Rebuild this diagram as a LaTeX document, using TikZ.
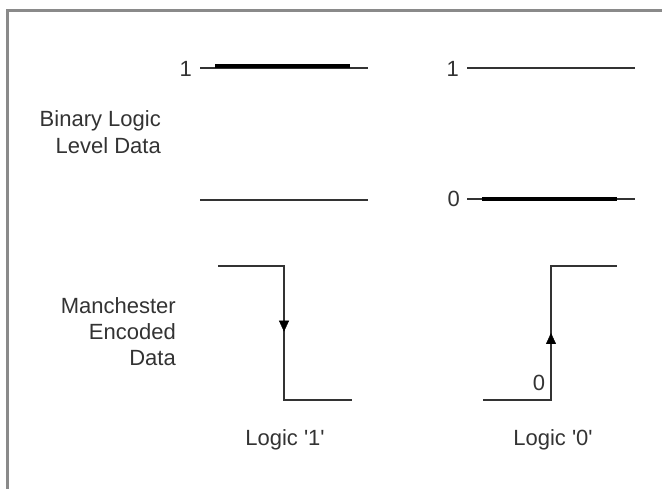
\documentclass[tikz,border=0pt]{standalone}
\usepackage{fontspec}
\setmainfont{Liberation Sans}
\usetikzlibrary{arrows.meta,decorations.markings}
\definecolor{ln}{HTML}{333333}
\definecolor{frame}{HTML}{8A8A8A}
\begin{document}
\begin{tikzpicture}[x=1pt,y=-1pt,
  lvl/.style={draw=ln,line width=1.6pt},
  bar/.style={draw=black,line width=3.2pt},
  wave/.style={draw=ln,line width=2pt,line join=miter},
  lbl/.style={font=\fontsize{22}{25}\selectfont,text=ln,inner sep=0pt},
  midarrow/.style={postaction={decorate},decoration={markings,mark=at position #1 with {\arrow{Triangle[length=11pt,width=10pt]}}}}]
\useasboundingbox[fill=white] (0,0) rectangle (662,489);
% frame
\draw[frame,line width=3pt] (7,489) -- (7,11) -- (662,11);
% level lines
\coordinate (a1) at (200,68); \coordinate (b1) at (368,68);
\coordinate (a0) at (200,200); \coordinate (b0) at (368,200);
\coordinate (c1) at (467,68); \coordinate (d1) at (635,68);
\coordinate (c0) at (467,199); \coordinate (d0) at (635,199);
\draw[lvl] (a1) -- (b1);
\draw[lvl] (a0) -- (b0);
\draw[lvl] (c1) -- (d1);
\draw[lvl] (c0) -- (d0);
\coordinate (p1) at (215,66); \coordinate (q1) at (350,66);
\coordinate (p0) at (482,199); \coordinate (q0) at (617,199);
\draw[bar] (p1) -- (q1);
\draw[bar] (p0) -- (q0);
\node[lbl,anchor=east] (one1) at (192,69) {1};
\node[lbl,anchor=east] (one2) at (459,69) {1};
\node[lbl,anchor=east] (zero2) at (460,199) {0};
% labels
\node[lbl,anchor=east] (bl) at (161,121) {Binary Logic};
\node[lbl,anchor=east] (ld) at (161,146) {Level Data};
\node[lbl,anchor=east] (m1) at (176,306) {Manchester};
\node[lbl,anchor=east] (m2) at (176,332) {Encoded};
\node[lbl,anchor=east] (m3) at (176,358) {Data};
% Manchester waveforms
\coordinate (w1a) at (218,266); \coordinate (w1b) at (284,266);
\coordinate (w1c) at (284,400); \coordinate (w1d) at (352,400);
\draw[wave] (w1a) -- (w1b) -- (w1c) -- (w1d);
\draw[draw=none,midarrow=0.49] (w1b) -- (w1c);
\coordinate (w2a) at (483,400); \coordinate (w2b) at (551,400);
\coordinate (w2c) at (551,266); \coordinate (w2d) at (617,266);
\draw[wave] (w2a) -- (w2b) -- (w2c) -- (w2d);
\draw[draw=none,midarrow=0.5] (w2b) -- (w2c);
\node[lbl] (z) at (539,383) {0};
\node[lbl] (L1) at (285,440) {Logic \textquotesingle 1\textquotesingle};
\node[lbl] (L0) at (553,440) {Logic \textquotesingle 0\textquotesingle};
\end{tikzpicture}
\end{document}
